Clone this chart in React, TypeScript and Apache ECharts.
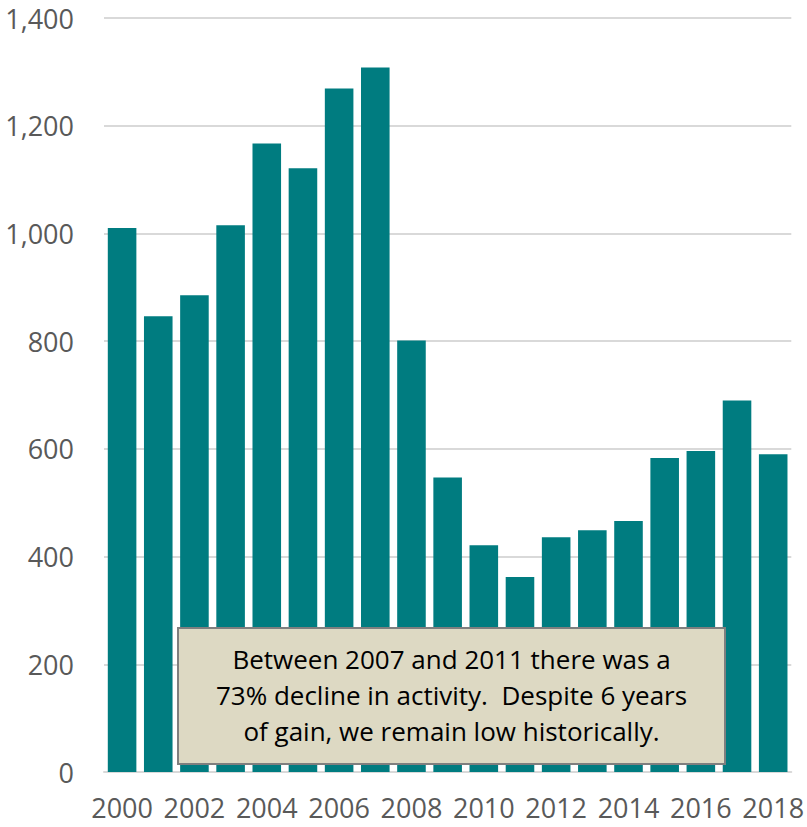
import React, { useEffect, useRef } from "react";
import * as echarts from "echarts";

const years = ["2000","2001","2002","2003","2004","2005","2006","2007","2008","2009","2010","2011","2012","2013","2014","2015","2016","2017","2018"];
const values = [1010, 846, 885, 1015, 1167, 1121, 1269, 1308, 801, 547, 421, 362, 436, 449, 466, 583, 596, 690, 590];
const noteLines = [
  "Between 2007 and 2011 there was a",
  "73% decline in activity.  Despite 6 years",
  "of gain, we remain low historically.",
];

export default function App() {
  const ref = useRef<HTMLDivElement>(null);
  useEffect(() => {
    if (!ref.current) return;
    const chart = echarts.init(ref.current, undefined, { renderer: "svg" });
    const font = "'Open Sans', sans-serif";
    chart.setOption({
      animation: false,
      grid: { left: 104, right: 13, top: 18, bottom: 55, containLabel: false },
      xAxis: {
        type: "category",
        data: years,
        axisTick: { show: false },
        axisLine: { lineStyle: { color: "#D9D9D9", width: 2 } },
        axisLabel: { interval: 1, color: "#595959", fontSize: 27, fontFamily: font, margin: 22 },
      },
      yAxis: {
        type: "value",
        min: 0,
        max: 1400,
        interval: 200,
        axisLabel: {
          color: "#595959",
          fontSize: 27,
          lineHeight: 28,
          fontFamily: font,
          margin: 30,
          formatter: (v: number) => v.toLocaleString("en-US"),
        },
        splitLine: { lineStyle: { color: "#D9D9D9", width: 2 } },
      },
      series: [
        {
          type: "bar",
          data: values,
          barCategoryGap: "21%",
          itemStyle: { color: "#007C80" },
        },
      ],
      graphic: [
        {
          type: "group",
          left: 177,
          top: 627,
          z: 100,
          children: [
            {
              type: "rect",
              z: 100,
              shape: { x: 0, y: 0, width: 547, height: 136 },
              style: { fill: "#DDD9C3", stroke: "#7F7F7F", lineWidth: 2 },
            },
            {
              type: "text",
              z: 101,
              x: 273.5,
              y: 67,
              style: {
                text: noteLines.join("\n"),
                fill: "#000000",
                font: `26px ${font}`,
                align: "center",
                verticalAlign: "middle",
                lineHeight: 36,
              },
            },
          ],
        },
      ],
    });
    return () => chart.dispose();
  }, []);
  return (
    <div
      ref={ref}
      style={{ position: "fixed", left: 0, top: 0, width: 807, height: 827, background: "#ffffff" }}
    />
  );
}
